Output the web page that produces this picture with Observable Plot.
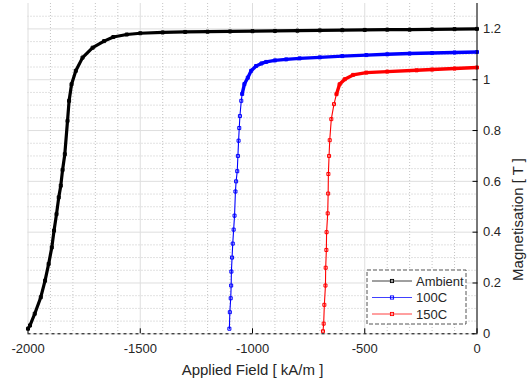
<!DOCTYPE html>
<html>
<head>
<meta charset="utf-8">
<script src="https://cdn.jsdelivr.net/npm/d3@7"></script>
<script src="https://cdn.jsdelivr.net/npm/@observablehq/plot@0.6"></script>
<style>
  html, body { margin: 0; padding: 0; background: white; }
  #chart { position: relative; width: 530px; height: 382px; }
</style>
</head>
<body>
<div id="chart"></div>
<script>
// ---- Data ----
const seriesNames = ["Ambient", "100C", "150C"];
const seriesColors = ["#000000", "#0000ff", "#ff0000"];

const ambientH = [-2000, -1991, -1970, -1943, -1924, -1908, -1894, -1884, -1873, -1863, -1854, -1846, -1836, -1824, -1817, -1806, -1787, -1757, -1712, -1661, -1620, -1560, -1500, -1400, -1300, -1200, -1100, -1000, -900, -800, -700, -600, -500, -400, -300, -200, -100, 0];
const ambientM = [0.02, 0.033, 0.079, 0.144, 0.209, 0.275, 0.34, 0.406, 0.471, 0.537, 0.583, 0.645, 0.707, 0.838, 0.917, 0.982, 1.035, 1.087, 1.126, 1.152, 1.168, 1.178, 1.183, 1.186, 1.188, 1.189, 1.19, 1.191, 1.192, 1.193, 1.194, 1.195, 1.196, 1.197, 1.197, 1.198, 1.199, 1.2];

const h100H = [-1103, -1101, -1097, -1095, -1094, -1091, -1088, -1084, -1080, -1076, -1073, -1068, -1065, -1062, -1059, -1056, -1050, -1046, -1036, -1021, -1006, -984, -960, -939, -900, -850, -790, -700, -600, -493, -400, -300, -200, -100, 0];
const h100M = [0.02, 0.085, 0.14, 0.19, 0.245, 0.30, 0.355, 0.41, 0.465, 0.56, 0.60, 0.64, 0.70, 0.76, 0.81, 0.857, 0.917, 0.944, 0.983, 1.008, 1.035, 1.054, 1.064, 1.070, 1.076, 1.080, 1.084, 1.088, 1.093, 1.097, 1.100, 1.103, 1.105, 1.107, 1.109];

const h150H = [-686, -683, -680, -675, -674, -671, -670, -665, -663, -662, -659, -656, -649, -637, -626, -612, -589, -552, -493, -400, -269, -200, -100, 0];
const h150M = [0.01, 0.04, 0.114, 0.19, 0.26, 0.33, 0.40, 0.474, 0.552, 0.629, 0.70, 0.762, 0.845, 0.904, 0.943, 0.982, 1.002, 1.019, 1.028, 1.032, 1.037, 1.040, 1.044, 1.048];

const xMajor = [-2000, -1500, -1000, -500, 0];
const xMinor = [-1900, -1800, -1700, -1600, -1400, -1300, -1200, -1100, -900, -800, -700, -600, -400, -300, -200, -100];
const yMajor = [0, 0.2, 0.4, 0.6, 0.8, 1, 1.2];
const yMinor = [0.05, 0.1, 0.15, 0.25, 0.3, 0.35, 0.45, 0.5, 0.55, 0.65, 0.7, 0.75, 0.85, 0.9, 0.95, 1.05, 1.1, 1.15, 1.25];

const xLabel = "Applied Field [ kA/m ]";
const yLabel = "Magnetisation [ T ]";

// ---- Build tables ----
const toRows = (H, M, s) => H.map((h, i) => ({H: h, M: M[i], s}));
const allSeries = [
  toRows(ambientH, ambientM, seriesNames[0]),
  toRows(h100H, h100M, seriesNames[1]),
  toRows(h150H, h150M, seriesNames[2])
];

const fontFam = "'Liberation Sans', Arial, Helvetica, sans-serif";
// densely sampled stretches of the measured curves render as a heavy band
const bandFrom = [0, 0.93, 0.93];
const seriesMarks = allSeries.flatMap((rows, i) => [
  Plot.line(rows, {x: "H", y: "M", stroke: seriesColors[i], strokeWidth: 1.1}),
  Plot.line(rows.filter(d => d.M >= bandFrom[i]), {x: "H", y: "M", stroke: seriesColors[i], strokeWidth: i === 0 ? 3.2 : 3.4}),
  Plot.dot(rows, {x: "H", y: "M", stroke: seriesColors[i], symbol: "square", r: 1.7, strokeWidth: 1, fill: "none"})
]);

const chart = Plot.plot({
  width: 530,
  height: 382,
  marginLeft: 27.5,
  marginRight: 53.5,
  marginTop: 3,
  marginBottom: 48.7,
  x: {domain: [-2000, 0]},
  y: {domain: [0, 1.3]},
  style: {fontFamily: fontFam, fontSize: "13px", color: "#262626", background: "white"},
  marks: [
    Plot.gridX(xMinor, {stroke: "#c4c4c4", strokeOpacity: 1, strokeDasharray: "1,2"}),
    Plot.gridY(yMinor, {stroke: "#c4c4c4", strokeOpacity: 1, strokeDasharray: "1,2"}),
    Plot.gridX(xMajor, {stroke: "#dedede", strokeOpacity: 1}),
    Plot.gridY(yMajor, {stroke: "#dedede", strokeOpacity: 1}),
    ...seriesMarks,
    Plot.ruleY([0], {stroke: "#000", strokeDasharray: "3,3"}),
    Plot.ruleX([0], {stroke: "#000"}),
    Plot.axisX(xMajor, {anchor: "bottom", tickSize: -5, tickPadding: 15, label: null, tickFormat: d => String(d), stroke: "#000"}),
    Plot.axisY(yMajor, {anchor: "right", tickSize: -5, tickPadding: 11, label: null, tickFormat: d => String(d), stroke: "#000"}),
    Plot.text([xLabel], {frameAnchor: "bottom", lineAnchor: "bottom", dy: 41, fontSize: 15, fill: "#262626"}),
    Plot.text([yLabel], {frameAnchor: "right", lineAnchor: "bottom", rotate: -90, dx: 45.5, dy: -10.6, fontSize: 15, fill: "#262626"})
  ]
});

document.getElementById("chart").appendChild(chart);

// ---- Legend (drawn inside the SVG, lower right) ----
const svg = d3.select(chart);
const lg = svg.append("g").attr("transform", "translate(367,270)");
lg.append("rect").attr("width", 99).attr("height", 54)
  .attr("fill", "white").attr("stroke", "#555").attr("stroke-width", 1).attr("stroke-dasharray", "4,2");
seriesNames.forEach((name, i) => {
  const y = 11 + i * 16.5;
  lg.append("line").attr("x1", 5).attr("x2", 45).attr("y1", y).attr("y2", y)
    .attr("stroke", seriesColors[i]).attr("stroke-width", 1).attr("stroke-opacity", 0.75);
  lg.append("rect").attr("x", 23.4).attr("y", y - 1.6).attr("width", 3.2).attr("height", 3.2)
    .attr("fill", "none").attr("stroke", seriesColors[i]).attr("stroke-width", 0.9);
  lg.append("text").attr("x", 49).attr("y", y).attr("dy", "0.35em")
    .attr("text-anchor", "start")
    .attr("font-family", fontFam).attr("font-size", 13).attr("fill", "#262626").text(name);
});
</script>
</body>
</html>
